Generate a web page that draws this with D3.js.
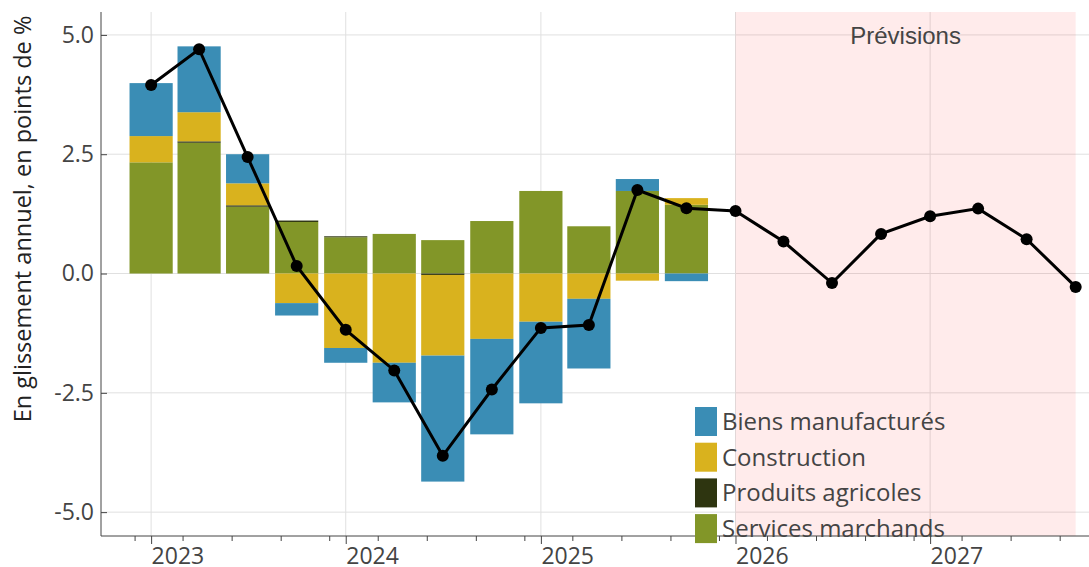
<!DOCTYPE html>
<html>
<head>
<meta charset="utf-8">
<script src="https://cdn.jsdelivr.net/npm/d3@7"></script>
<style>
  body { margin: 0; background: #fff; }
  svg { display: block; }
</style>
</head>
<body>
<svg id="chart" width="1089" height="567"></svg>
<script>
"use strict";

// quarters 2023T1 .. 2027T4 (first day of each quarter)
var quarters = d3.range(20).map(function (i) {
    return new Date(Date.UTC(2023 + Math.floor(i / 4), (i % 4) * 3, 1));
});

// contributions (bars only up to 2025T4)
var services     = [2.33, 2.74, 1.40, 1.08, 0.76, 0.83, 0.70, 1.10, 1.73, 0.99, 1.73, 1.44];
var agricoles    = [0.00, 0.03, 0.03, 0.03, 0.02, 0.00, -0.03, 0.00, 0.00, 0.00, 0.00, 0.00];
var construction = [0.55, 0.61, 0.46, -0.62, -1.56, -1.87, -1.69, -1.37, -1.01, -0.53, -0.15, 0.14];
var biens        = [1.11, 1.38, 0.61, -0.26, -0.31, -0.83, -2.64, -2.00, -1.71, -1.46, 0.25, -0.16];

// total (line), incl. forecasts
var total = [3.95, 4.70, 2.44, 0.16, -1.18, -2.03, -3.82, -2.43, -1.14, -1.08, 1.75, 1.37,
             1.31, 0.67, -0.20, 0.83, 1.20, 1.36, 0.72, -0.28];

var yTicks = [-5, -2.5, 0, 2.5, 5];
var legendLabels = ["Biens manufacturés", "Construction", "Produits agricoles", "Services marchands"];

var colors = {
    services: "#829628",
    agricoles: "#2e3510",
    construction: "#d9b21e",
    biens: "#3a8db5"
};

var svg = d3.select("#chart");
var width = +svg.attr("width");
var height = +svg.attr("height");
var margin = { top: 12, right: 0, bottom: 31, left: 101 };
var plotBottom = height - margin.bottom;

var x = d3.scaleUtc()
    .domain([new Date(Date.UTC(2022, 8, 29)), new Date(Date.UTC(2027, 9, 26))])
    .range([margin.left, width - margin.right]);

var y = d3.scaleLinear()
    .domain([-5.5, 5.48])
    .range([plotBottom, margin.top]);

var font = "'Open Sans', sans-serif";

// grid
svg.append("g")
    .selectAll("line")
    .data(yTicks)
    .join("line")
    .attr("x1", margin.left).attr("x2", width)
    .attr("y1", function (d) { return y(d); })
    .attr("y2", function (d) { return y(d); })
    .attr("stroke", "#e0e0e0");

var years = d3.utcYear.range(new Date(Date.UTC(2023, 0, 1)), new Date(Date.UTC(2028, 0, 1)));
svg.append("g")
    .selectAll("line")
    .data(years)
    .join("line")
    .attr("x1", function (d) { return x(d); })
    .attr("x2", function (d) { return x(d); })
    .attr("y1", margin.top).attr("y2", plotBottom)
    .attr("stroke", "#e0e0e0");

// forecast area
svg.append("rect")
    .attr("x", x(quarters[12]))
    .attr("width", x(quarters[19]) - x(quarters[12]))
    .attr("y", margin.top)
    .attr("height", plotBottom - margin.top)
    .attr("fill", "rgba(255, 0, 0, 0.08)");

svg.append("text")
    .attr("x", (x(quarters[12]) + x(quarters[19])) / 2)
    .attr("y", 44)
    .attr("text-anchor", "middle")
    .attr("font-family", "'Liberation Sans', Arial, sans-serif")
    .attr("font-size", "24px")
    .attr("fill", "#444")
    .text("Prévisions");

// stacked bars
var rows = services.map(function (v, i) {
    return {
        date: quarters[i],
        services: v,
        agricoles: agricoles[i],
        construction: construction[i],
        biens: biens[i]
    };
});

var keys = ["services", "agricoles", "construction", "biens"];
var series = d3.stack().keys(keys).offset(d3.stackOffsetDiverging)(rows);

var barW = 0.9 * (x(quarters[1]) - x(quarters[0]));

svg.append("g")
    .selectAll("g")
    .data(series)
    .join("g")
    .attr("fill", function (s) { return colors[s.key]; })
    .selectAll("rect")
    .data(function (s) { return s; })
    .join("rect")
    .attr("x", function (d) { return x(d.data.date) - barW / 2; })
    .attr("width", barW)
    .attr("y", function (d) { return y(Math.max(d[0], d[1])); })
    .attr("height", function (d) { return Math.abs(y(d[0]) - y(d[1])); });

// line
var line = d3.line()
    .x(function (d, i) { return x(quarters[i]); })
    .y(function (d) { return y(d); });

svg.append("path")
    .datum(total)
    .attr("d", line)
    .attr("fill", "none")
    .attr("stroke", "#000")
    .attr("stroke-width", 3);

svg.append("g")
    .selectAll("circle")
    .data(total)
    .join("circle")
    .attr("cx", function (d, i) { return x(quarters[i]); })
    .attr("cy", function (d) { return y(d); })
    .attr("r", 6)
    .attr("fill", "#000");

// y axis (plain hyphen for negatives, as in the original)
var fmt = d3.format(".1f");
var yAxis = svg.append("g")
    .attr("transform", "translate(" + margin.left + ",0)")
    .call(d3.axisRight(y).tickValues(yTicks).tickSize(6)
        .tickFormat(function (d) { return fmt(d).replace("\u2212", "-"); }));
yAxis.select(".domain").attr("d", "M0," + margin.top + "V" + plotBottom).attr("stroke", "#444");
yAxis.selectAll(".tick line").attr("stroke", "#444");
yAxis.selectAll(".tick text")
    .attr("x", -7)
    .attr("text-anchor", "end")
    .attr("font-family", font)
    .attr("font-size", "23px")
    .attr("fill", "#444");

// x axis
var minor = d3.utcMonth.range(new Date(Date.UTC(2022, 11, 1)), new Date(Date.UTC(2027, 9, 2)), 3);
var xMinor = svg.append("g")
    .attr("transform", "translate(0," + plotBottom + ")")
    .call(d3.axisBottom(x).tickValues(minor).tickSize(5).tickFormat(""));
xMinor.select(".domain").remove();
xMinor.selectAll(".tick line").attr("stroke", "#444");

var xAxis = svg.append("g")
    .attr("transform", "translate(0," + plotBottom + ")")
    .call(d3.axisBottom(x).tickValues(years).tickSize(8).tickFormat(d3.utcFormat("%Y")));
xAxis.select(".domain").attr("d", "M" + margin.left + ",0H" + width).attr("stroke", "#444");
xAxis.selectAll(".tick line").attr("stroke", "#444");
xAxis.selectAll(".tick text")
    .attr("y", 28)
    .attr("dy", 0)
    .attr("text-anchor", "start")
    .attr("font-family", font)
    .attr("font-size", "23px")
    .attr("fill", "#444");

// y title
svg.append("text")
    .attr("transform", "translate(31,219) rotate(-90)")
    .attr("text-anchor", "middle")
    .attr("font-family", font)
    .attr("font-size", "23.5px")
    .attr("fill", "#222")
    .text("En glissement annuel, en points de %");

// legend
var legendColors = [colors.biens, colors.construction, colors.agricoles, colors.services];
var legend = svg.append("g")
    .attr("transform", "translate(695,407)")
    .selectAll("g")
    .data(legendLabels)
    .join("g")
    .attr("transform", function (d, i) { return "translate(0," + (i * 35.7) + ")"; });

legend.append("rect")
    .attr("width", 22)
    .attr("height", 29)
    .attr("fill", function (d, i) { return legendColors[i]; });

legend.append("text")
    .attr("x", 27)
    .attr("y", 23)
    .attr("font-family", font)
    .attr("font-size", "24px")
    .attr("fill", "#444")
    .text(function (d) { return d; });
</script>
</body>
</html>
